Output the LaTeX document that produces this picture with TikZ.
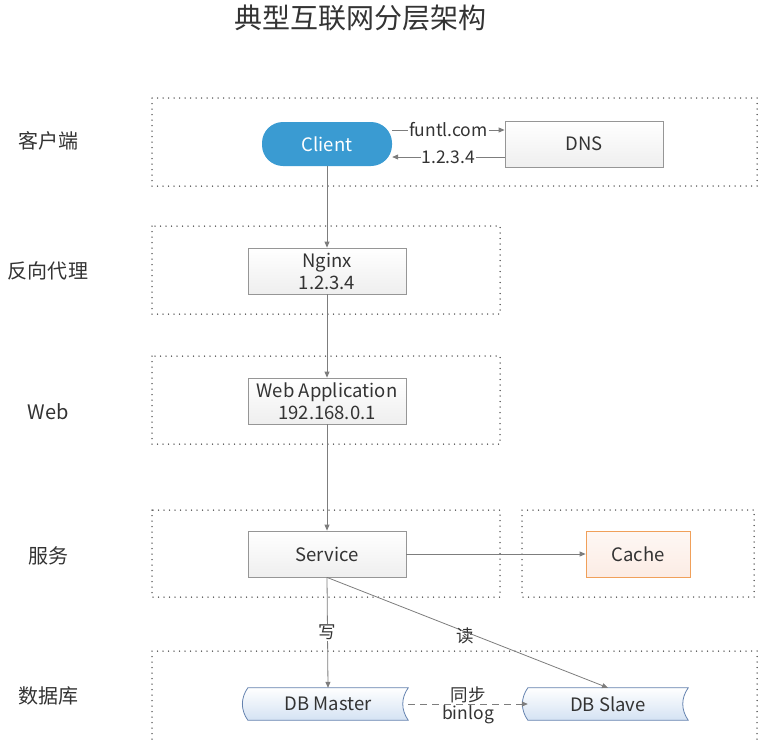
\documentclass[tikz,border=0pt]{standalone}
\usepackage{fontspec}
\setmainfont{Noto Sans CJK SC}
\usetikzlibrary{arrows.meta, backgrounds}
\definecolor{clientblue}{RGB}{58,155,210}
\definecolor{boxgray}{RGB}{150,150,150}
\definecolor{linegray}{RGB}{125,125,125}
\definecolor{txtgray}{RGB}{51,51,51}
\definecolor{cacheorange}{RGB}{240,160,90}
\definecolor{cachefill}{RGB}{252,236,228}
\definecolor{dbborder}{RGB}{100,130,175}
\definecolor{dbfill}{RGB}{212,226,243}
\tikzset{
    layerbox/.style={draw=gray!55!black, line width=1.5pt, dash pattern=on 0pt off 5.5pt, line cap=round},
    lanelbl/.style={font=\fontsize{20}{24}\selectfont, text=txtgray},
    titlelbl/.style={font=\fontsize{28}{32}\selectfont, text=txtgray},
    clientnode/.style={rectangle, rounded corners=21pt, fill=clientblue, minimum width=130, minimum height=44, text=white, font=\fontsize{18.5}{22}\selectfont},
    srvbox/.style={rectangle, draw=boxgray, line width=0.8pt, top color=white, bottom color=gray!13, minimum width=158, minimum height=46, inner xsep=2pt, align=center, font=\fontsize{18.5}{22}\selectfont, text=txtgray},
    cachebox/.style={srvbox, draw=cacheorange, top color=cachefill!40, bottom color=cachefill, minimum width=104},
    dbnode/.style={rectangle, minimum width=160, minimum height=32, font=\fontsize{18.5}{22}\selectfont, text=txtgray},
    dbshape/.style={draw=dbborder, line width=0.8pt, top color=white, bottom color=dbfill},
    arr/.style={-{Triangle[length=6pt, width=5pt]}, draw=linegray, line width=0.8pt},
    arrdash/.style={arr, dash pattern=on 7pt off 5pt},
    edgelbl/.style={font=\fontsize{17.5}{20}\selectfont, text=txtgray, fill=white, inner sep=1pt}
}
\begin{document}
\begin{tikzpicture}[x=1pt, y=-1pt]
    \useasboundingbox (0,0) rectangle (760,739);
    \node[titlelbl] (title) at (360,18) {典型互联网分层架构};
    % layers
    \draw[layerbox] (152,98) rectangle (757,186);
    \draw[layerbox] (152,226) rectangle (500,314);
    \draw[layerbox] (152,356) rectangle (500,444);
    \draw[layerbox] (152,510) rectangle (500,597);
    \draw[layerbox] (522,510) rectangle (754,597);
    \draw[layerbox] (152,750) -- (152,651) -- (757,651) -- (757,750);
    \node[lanelbl] (l1) at (48,141) {客户端};
    \node[lanelbl] (l2) at (48,271) {反向代理};
    \node[lanelbl] (l3) at (48,412) {Web};
    \node[lanelbl] (l4) at (48,556) {服务};
    \node[lanelbl] (l5) at (48,696) {数据库};
    % nodes
    \node[clientnode] (client) at (327,144) {Client};
    \node[srvbox] (dns) at (584,144) {DNS};
    \node[srvbox] (nginx) at (327,271) {Nginx\\1.2.3.4};
    \node[srvbox] (webapp) at (327,401) {Web Application\\192.168.0.1};
    \node[srvbox] (service) at (327,554) {Service};
    \node[cachebox] (cache) at (638,554) {Cache};
    \node[dbnode] (dbm) at (328,704) {DB Master};
    \node[dbnode] (dbs) at (608,704) {DB Slave};
    \begin{scope}[on background layer]
        \foreach \db in {dbm, dbs} {
            \draw[dbshape] (\db.north west) to[bend right=35] (\db.south west) -- (\db.south east) to[bend left=35] (\db.north east) -- cycle;
        }
    \end{scope}
    % connectors
    \draw[arr] ([yshift=14pt]client.east) -- node[edgelbl] {funtl.com} ([yshift=14pt]dns.west);
    \draw[arr] ([yshift=-13pt]dns.west) -- node[edgelbl] {1.2.3.4} ([yshift=-13pt]client.east);
    \draw[arr] (client) -- (nginx);
    \draw[arr] (nginx) -- (webapp);
    \draw[arr] (webapp) -- (service);
    \draw[arr] (service) -- (cache);
    \draw[arr] (service.south) -- node[edgelbl] {写} (dbm.north);
    \draw[arr] (service.south) -- node[edgelbl, fill=none, xshift=-2pt, yshift=-3pt] {读} (dbs.north);
    \draw[arrdash] (dbm) -- node[edgelbl, fill=none, above=0pt] {同步} node[edgelbl, fill=none, below=0pt] {binlog} (dbs);
\end{tikzpicture}
\end{document}
